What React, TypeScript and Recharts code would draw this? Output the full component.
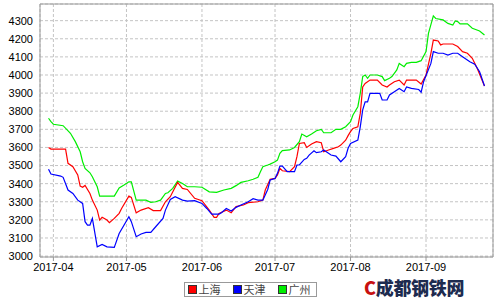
import React from "react";
import {
  LineChart,
  Line,
  XAxis,
  YAxis,
  CartesianGrid,
  Legend,
  ReferenceLine,
} from "recharts";

// x values are days counted from 2017-04-01
const monthTicks = [0, 30, 61, 91, 122, 153];
const monthLabels = ["2017-04", "2017-05", "2017-06", "2017-07", "2017-08", "2017-09"];
const priceTicks = [3000, 3100, 3200, 3300, 3400, 3500, 3600, 3700, 3800, 3900, 4000, 4100, 4200, 4300];

const seriesNames = ["上海", "天津", "广州"];
const seriesColors = ["#ff0000", "#0000ff", "#00ee00"];

const shanghaiDays = [
  -2, -1, 5, 6, 8, 10, 11, 12, 13, 15, 16, 18, 19, 20, 22, 23, 25, 27, 28, 31, 32, 34, 36, 39, 41, 44,
  46, 48, 51, 53, 55, 58, 61, 64, 66, 67, 68, 71, 73, 75, 78, 80, 84, 86, 87, 89, 91, 92, 93, 94, 97,
  99, 100, 101, 103, 104, 106, 108, 110, 111, 113, 115, 117, 118, 120, 121, 122, 123, 125, 126, 127,
  128, 130, 133, 135, 137, 138, 140, 142, 144, 145, 149, 151, 153, 155, 156, 158, 159, 160, 164, 166,
  168, 170, 172, 174, 177,
];
const shanghaiPrices = [
  3600, 3591, 3591, 3512, 3494, 3448, 3387, 3380, 3390, 3346, 3309, 3254, 3199, 3214, 3199, 3184, 3208,
  3236, 3263, 3331, 3324, 3239, 3254, 3267, 3251, 3251, 3300, 3328, 3407, 3374, 3368, 3319, 3306, 3254,
  3214, 3214, 3236, 3254, 3239, 3273, 3282, 3295, 3300, 3309, 3365, 3424, 3429, 3448, 3484, 3471, 3466,
  3494, 3549, 3622, 3626, 3600, 3619, 3632, 3626, 3576, 3586, 3595, 3604, 3613, 3640, 3665, 3687, 3705,
  3714, 3788, 3934, 3953, 3972, 3972, 3945, 3934, 3945, 3963, 3972, 3945, 3972, 3972, 3950, 4000, 4120,
  4193, 4188, 4166, 4171, 4171, 4157, 4129, 4120, 4092, 4037, 3939,
];

const tianjinDays = [
  -2, -1, 3, 4, 6, 8, 10, 12, 13, 14, 15, 16, 18, 20, 22, 25, 27, 31, 32, 34, 36, 38, 40, 42, 45, 46,
  48, 50, 53, 55, 58, 61, 63, 65, 68, 69, 71, 73, 75, 77, 80, 82, 84, 86, 88, 89, 91, 92, 93, 94, 96,
  99, 100, 101, 103, 104, 105, 107, 108, 110, 111, 114, 116, 118, 120, 121, 122, 125, 126, 127, 128,
  129, 130, 134, 135, 137, 138, 140, 142, 144, 145, 147, 150, 151, 152, 155, 156, 158, 160, 162, 164,
  166, 168, 171, 173, 175, 177,
];
const tianjinPrices = [
  3479, 3453, 3442, 3435, 3365, 3346, 3309, 3291, 3190, 3171, 3171, 3208, 3051, 3064, 3051, 3048, 3125,
  3217, 3190, 3107, 3122, 3131, 3131, 3162, 3208, 3254, 3313, 3328, 3309, 3304, 3306, 3291, 3263, 3232,
  3232, 3239, 3263, 3249, 3269, 3282, 3300, 3317, 3309, 3309, 3368, 3420, 3429, 3457, 3497, 3497, 3466,
  3466, 3503, 3503, 3534, 3540, 3558, 3582, 3571, 3576, 3586, 3558, 3552, 3521, 3549, 3595, 3622, 3641,
  3714, 3807, 3852, 3852, 3899, 3899, 3862, 3862, 3890, 3908, 3926, 3908, 3934, 3926, 3920, 3905, 3963,
  4064, 4129, 4120, 4120, 4110, 4120, 4120, 4101, 4073, 4060, 4018, 3939,
];

const guangzhouDays = [
  -2, -1, 0, 4, 7, 9, 11, 12, 13, 15, 16, 18, 19, 25, 27, 29, 31, 32, 34, 38, 40, 42, 44, 46, 47, 49,
  51, 53, 55, 58, 61, 64, 67, 70, 73, 75, 77, 80, 82, 84, 85, 86, 88, 89, 91, 92, 93, 94, 97, 99, 101,
  102, 104, 106, 108, 110, 111, 114, 116, 118, 120, 122, 123, 125, 126, 127, 128, 129, 130, 133, 135,
  136, 138, 139, 141, 142, 144, 145, 147, 149, 151, 153, 154, 156, 157, 160, 162, 164, 165, 166, 167,
  170, 172, 175, 177,
];
const guangzhouPrices = [
  3761, 3742, 3728, 3720, 3678, 3632, 3576, 3521, 3484, 3460, 3438, 3383, 3331, 3331, 3376, 3392, 3410,
  3410, 3309, 3309, 3297, 3300, 3309, 3346, 3350, 3374, 3414, 3401, 3383, 3383, 3380, 3355, 3352, 3365,
  3374, 3389, 3407, 3416, 3424, 3435, 3466, 3494, 3503, 3508, 3521, 3530, 3567, 3582, 3586, 3600, 3632,
  3674, 3659, 3674, 3692, 3700, 3681, 3681, 3700, 3700, 3714, 3742, 3779, 3825, 3899, 3991, 4000, 3982,
  4000, 4000, 3991, 3969, 3982, 3991, 4028, 4064, 4046, 4064, 4070, 4070, 4079, 4129, 4230, 4326, 4312,
  4304, 4285, 4276, 4298, 4295, 4282, 4282, 4258, 4243, 4221,
];

const toRows = (days: number[], prices: number[]) =>
  days.map((d, i) => ({ day: d, price: prices[i] }));

const shanghaiData = toRows(shanghaiDays, shanghaiPrices);
const tianjinData = toRows(tianjinDays, tianjinPrices);
const guangzhouData = toRows(guangzhouDays, guangzhouPrices);

const formatMonth = (v: number) => {
  const i = monthTicks.indexOf(v);
  return i >= 0 ? monthLabels[i] : "";
};

const LegendBox = () => (
  <div style={{ display: "flex", justifyContent: "center", width: "100%" }}>
    <div
      style={{
        display: "flex",
        alignItems: "center",
        height: 13,
        border: "1px solid #9a9a9a",
        padding: "0 5px 0 3px",
        fontFamily: "'Noto Sans CJK SC', sans-serif",
        fontSize: 11,
        color: "#444",
        background: "#fff",
      }}
    >
      {seriesNames.map((n, i) => (
        <div key={n} style={{ display: "flex", alignItems: "center", marginLeft: i === 0 ? 0 : 12 }}>
          <span
            style={{
              display: "inline-block",
              width: 7,
              height: 7,
              background: seriesColors[i],
              border: "1px solid #333",
              marginRight: 2,
            }}
          />
          <span style={{ lineHeight: "13px" }}>{n}</span>
        </div>
      ))}
    </div>
  </div>
);

export default function App() {
  return (
    <div style={{ position: "absolute", left: 0, top: 0, width: 500, height: 300, background: "#fff" }}>
      <LineChart width={500} height={300} margin={{ top: 4, right: 7, left: 0, bottom: 8 }}>
        <CartesianGrid stroke="#c4c4c4" strokeDasharray="3 2" />
        <XAxis
          dataKey="day"
          type="number"
          domain={[-5.5, 180.5]}
          ticks={monthTicks}
          tickFormatter={formatMonth}
          allowDataOverflow
          height={20}
          tickSize={4}
          tickMargin={2}
          stroke="#999"
          tick={{ fill: "#000", fontSize: 11, fontFamily: "'Liberation Sans', Arial, sans-serif" }}
          interval={0}
        />
        <YAxis
          type="number"
          domain={[2995, 4392]}
          ticks={priceTicks}
          allowDataOverflow
          width={40}
          tickLine={false}
          tickSize={5}
          tickMargin={2}
          stroke="#999"
          tick={{ fill: "#000", fontSize: 11, fontFamily: "'Liberation Sans', Arial, sans-serif" }}
          interval={0}
        />
        <ReferenceLine y={4392} stroke="#999" strokeWidth={1} />
        <ReferenceLine x={180.5} stroke="#999" strokeWidth={1} />
        <Legend content={<LegendBox />} wrapperStyle={{ left: 0, width: 500, bottom: 3 }} />
        <Line
          data={guangzhouData}
          dataKey="price"
          name={seriesNames[2]}
          stroke={seriesColors[2]}
          strokeWidth={1.2}
          dot={false}
          isAnimationActive={false}
        />
        <Line
          data={shanghaiData}
          dataKey="price"
          name={seriesNames[0]}
          stroke={seriesColors[0]}
          strokeWidth={1.2}
          dot={false}
          isAnimationActive={false}
        />
        <Line
          data={tianjinData}
          dataKey="price"
          name={seriesNames[1]}
          stroke={seriesColors[1]}
          strokeWidth={1.2}
          dot={false}
          isAnimationActive={false}
        />
      </LineChart>
      <div
        style={{
          position: "absolute",
          left: 364,
          top: 278,
          fontFamily: "'Noto Sans CJK SC', sans-serif",
          fontWeight: 900,
          fontSize: 18,
          lineHeight: "19px",
          color: "#1d2b4f",
          letterSpacing: -0.3,
          whiteSpace: "nowrap",
        }}
      >
        <span style={{ color: "#c81010" }}>C</span>成都钢铁网
      </div>
    </div>
  );
}
